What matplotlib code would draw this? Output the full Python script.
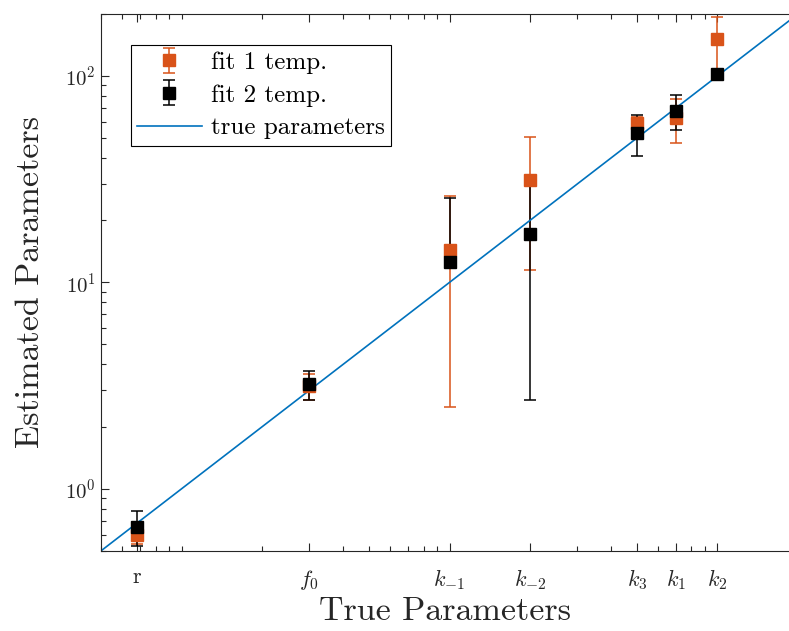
import matplotlib
matplotlib.use("Agg")
import matplotlib.pyplot as plt
import numpy as np
from matplotlib.ticker import FixedLocator, FixedFormatter, LogLocator, NullFormatter

plt.rcParams['font.family'] = 'serif'
plt.rcParams['font.serif'] = ['cmr10']
plt.rcParams['mathtext.fontset'] = 'cm'
plt.rcParams['axes.formatter.use_mathtext'] = True
plt.rcParams['axes.unicode_minus'] = False

# true parameter values and their tick labels
true_vals = [0.68, 3, 10, 20, 50, 70, 100]
tick_labels = ['r', '$f_0$', '$k_{-1}$', '$k_{-2}$', '$k_3$', '$k_1$', '$k_2$']

# fit with one temperature
fit1 = [0.60, 3.15, 14.3, 31.2, 59.1, 62.4, 150.4]
fit1_err = [0.06, 0.45, 11.8, 19.7, 4.0, 15.2, 42.0]

# fit with two temperatures
fit2 = [0.655, 3.2, 12.6, 17.2, 52.9, 67.8, 102.3]
fit2_err = [0.125, 0.5, 12.9, 14.5, 12.0, 13.0, 4.0]

line_range = [0.5, 185]

orange = '#D95319'
blue = '#0072BD'
dark = '#262626'

fig = plt.figure(figsize=(7.89, 6.31), dpi=100)
ax = fig.add_axes([0.128, 0.127, 0.872, 0.851])
ax.set_xscale('log')
ax.set_yscale('log')

f2 = np.array(fit2)
e2 = np.array(fit2_err)
e2_low = np.where(f2 - e2 > 0, e2, 0)  # negative lower bound not drawn on log axis

h1 = ax.errorbar(true_vals, fit1, yerr=fit1_err, fmt='s', color=orange, ms=8.5,
                 capsize=4.5, elinewidth=1.1, capthick=1.1, label='fit 1 temp.')
h2 = ax.errorbar(true_vals, fit2, yerr=[e2_low, e2], fmt='s', color='black', ms=8.5,
                 capsize=4.5, elinewidth=1.1, capthick=1.1, label='fit 2 temp.')
h3, = ax.plot(line_range, line_range, color=blue, lw=1.2, label='true parameters')

ax.set_xlim(0.5, 185)
ax.set_ylim(0.5, 200)

ax.xaxis.set_major_locator(FixedLocator(true_vals))
ax.xaxis.set_major_formatter(FixedFormatter(tick_labels))
ax.xaxis.set_minor_locator(LogLocator(base=10, subs=np.arange(1, 10)))
ax.xaxis.set_minor_formatter(NullFormatter())
ax.yaxis.set_major_locator(LogLocator(base=10, numticks=10))
ax.yaxis.set_minor_locator(LogLocator(base=10, subs=np.arange(2, 10), numticks=10))
ax.yaxis.set_minor_formatter(NullFormatter())

ax.tick_params(which='both', direction='in', top=True, right=False, colors=dark,
               labelsize=16, width=0.8)
ax.tick_params(which='major', length=6)
ax.tick_params(which='minor', length=3.5)
ax.tick_params(axis='x', which='major', pad=12)
ax.tick_params(axis='y', which='major', pad=4, labelsize=15)
for s in ['left', 'bottom', 'top']:
    ax.spines[s].set_color(dark)
    ax.spines[s].set_linewidth(0.8)
ax.spines['right'].set_visible(False)

ax.set_xlabel('True Parameters', fontsize=24.5, color=dark, labelpad=3)
ax.set_ylabel('Estimated Parameters', fontsize=24.5, color=dark, labelpad=14)

leg = ax.legend([h1, h2, h3], ['fit 1 temp.', 'fit 2 temp.', 'true parameters'],
                loc='upper left', bbox_to_anchor=(0.043, 0.942), borderaxespad=0,
                fancybox=False, framealpha=1, edgecolor='black', fontsize=18,
                handlelength=2.6, handletextpad=0.35, borderpad=0.25,
                labelspacing=0.41)
leg.get_frame().set_linewidth(0.8)

plt.savefig('out.png', dpi=100)
plt.close()
